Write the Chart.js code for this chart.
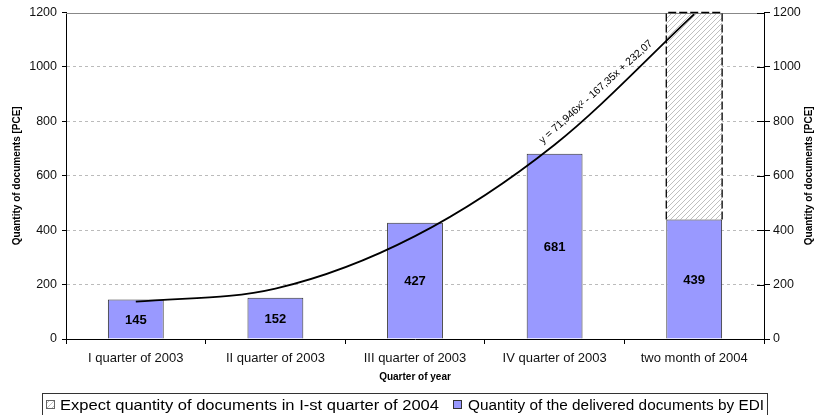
<!DOCTYPE html>
<html>
<head>
<meta charset="utf-8">
<script src="https://cdn.jsdelivr.net/npm/chart.js@4.4.1/dist/chart.umd.min.js"></script>
<style>
  html, body { margin: 0; padding: 0; background: #fff; }
  #wrap { width: 815px; height: 415px; position: relative; }
</style>
</head>
<body>
<div id="wrap"><canvas id="chart"></canvas></div>
<script>
  const categories = [
    "I quarter of 2003",
    "II quarter of 2003",
    "III quarter of 2003",
    "IV quarter of 2003",
    "two month of 2004",
  ];
  const delivered = [145, 152, 427, 681, 439];
  const expected = [null, null, null, null, 761];
  const trend = [137, 185, 378, 714, 1194];
  const yTicks = [0, 200, 400, 600, 800, 1000, 1200];
  const trendLabel = "y = 71,946x² - 167,35x + 232,07";
  const legendLabels = [
    "Expect quantity of documents in I-st quarter of 2004",
    "Quantity of the delivered documents by EDI",
  ];
  const axisTitle = "Quantity of documents [PCE]";
  const xTitle = "Quarter of year";

  const FONT = "'Liberation Sans', Arial, sans-serif";
  const BLUE = "#9999ff";

  function makeHatch(size) {
    const p = document.createElement("canvas");
    p.width = size;
    p.height = size;
    const g = p.getContext("2d");
    g.fillStyle = "#fff";
    g.fillRect(0, 0, size, size);
    g.strokeStyle = "#b8b8b8";
    g.lineWidth = 0.9;
    g.beginPath();
    g.moveTo(-1, size + 1);
    g.lineTo(size + 1, -1);
    g.moveTo(-1, 1);
    g.lineTo(1, -1);
    g.moveTo(size - 1, size + 1);
    g.lineTo(size + 1, size - 1);
    g.stroke();
    return g.createPattern(p, "repeat");
  }
  const hatch = makeHatch(5);

  // text squeezed or stretched to the width it has in the original
  function fitText(ctx, text, x, y, width) {
    const w = ctx.measureText(text).width;
    ctx.save();
    ctx.translate(x, y);
    ctx.scale(width / w, 1);
    ctx.fillText(text, 0, 0);
    ctx.restore();
  }

  const decor = {
    id: "decor",
    afterDatasetsDraw(chart) {
      const { ctx, chartArea } = chart;
      ctx.save();

      // solid top border at 1200
      ctx.strokeStyle = "#888";
      ctx.lineWidth = 1;
      ctx.beginPath();
      ctx.moveTo(chartArea.left, Math.round(chartArea.top) + 0.5);
      ctx.lineTo(chartArea.right, Math.round(chartArea.top) + 0.5);
      ctx.stroke();

      // dashed outline for the forecast bar
      const fm = chart.getDatasetMeta(2);
      fm.data.forEach((el, i) => {
        if (expected[i] == null) return;
        const { x, y, base, width } = el.getProps(["x", "y", "base", "width"], true);
        ctx.strokeStyle = "#000";
        ctx.lineWidth = 1.3;
        ctx.setLineDash([8, 3]);
        ctx.beginPath();
        ctx.moveTo(x - width / 2, base);
        ctx.lineTo(x - width / 2, y);
        ctx.lineTo(x + width / 2, y);
        ctx.lineTo(x + width / 2, base);
        ctx.stroke();
        ctx.setLineDash([]);
      });

      // value labels in the blue bars
      const dm = chart.getDatasetMeta(1);
      ctx.fillStyle = "#000";
      ctx.font = "bold 13px " + FONT;
      ctx.textAlign = "center";
      ctx.textBaseline = "middle";
      dm.data.forEach((el, i) => {
        const { x, y, base } = el.getProps(["x", "y", "base"], true);
        ctx.fillText(String(delivered[i]), x, (y + base) / 2 + 1);
      });
      ctx.restore();
    },
    afterDraw(chart) {
      const { ctx, chartArea } = chart;
      ctx.save();
      const midY = (chartArea.top + chartArea.bottom) / 2;

      // trend equation
      ctx.save();
      ctx.translate(596, 92);
      ctx.rotate(-0.735);
      ctx.font = "10.5px " + FONT;
      ctx.fillStyle = "#000";
      ctx.textAlign = "center";
      ctx.textBaseline = "middle";
      ctx.fillText(trendLabel, 0, 0);
      ctx.restore();

      // axis titles
      ctx.font = "bold 10px " + FONT;
      ctx.fillStyle = "#000";
      ctx.textAlign = "center";
      ctx.textBaseline = "middle";
      [17, 809].forEach((x) => {
        ctx.save();
        ctx.translate(x, midY);
        ctx.rotate(-Math.PI / 2);
        ctx.fillText(axisTitle, 0, 0);
        ctx.restore();
      });
      ctx.fillText(xTitle, (chartArea.left + chartArea.right) / 2, 377);

      // legend
      ctx.strokeStyle = "#333";
      ctx.lineWidth = 1;
      ctx.strokeRect(42.5, 393.5, 725, 24);
      ctx.font = "14px " + FONT;
      ctx.textAlign = "left";
      const ly = 405;
      ctx.fillStyle = hatch;
      ctx.fillRect(46.5, ly - 4.5, 8, 8);
      ctx.strokeStyle = "#666";
      ctx.strokeRect(46.5, ly - 4.5, 8, 8);
      ctx.fillStyle = "#000";
      fitText(ctx, legendLabels[0], 60, ly + 1, 379);
      ctx.fillStyle = BLUE;
      ctx.fillRect(453.5, ly - 4.5, 8, 8);
      ctx.strokeStyle = "#333";
      ctx.strokeRect(453.5, ly - 4.5, 8, 8);
      ctx.fillStyle = "#000";
      fitText(ctx, legendLabels[1], 468, ly + 1, 296);

      // inner halves of the right-axis ticks
      const y2 = chart.scales.y2;
      ctx.strokeStyle = "#000";
      ctx.beginPath();
      yTicks.forEach((v) => {
        const py = Math.round(y2.getPixelForValue(v)) + 0.5;
        ctx.moveTo(y2.left - 7, py);
        ctx.lineTo(y2.left, py);
      });
      ctx.stroke();
      ctx.restore();
    },
  };

  const tickFont = { family: FONT, size: 12.5 };

  new Chart(document.getElementById("chart"), {
    type: "bar",
    data: {
      labels: categories,
      datasets: [
        {
          type: "line",
          label: "trend",
          data: trend,
          yAxisID: "y2",
          borderColor: "#000",
          borderWidth: 1.8,
          pointRadius: 0,
          cubicInterpolationMode: "monotone",
          fill: false,
          order: 0,
        },
        {
          label: legendLabels[1],
          data: delivered,
          backgroundColor: BLUE,
          borderColor: "#333",
          borderWidth: 1,
          borderSkipped: "bottom",
          barPercentage: 0.4,
          categoryPercentage: 1,
          order: 1,
        },
        {
          label: legendLabels[0],
          data: expected,
          backgroundColor: hatch,
          borderWidth: 0,
          barPercentage: 0.4,
          categoryPercentage: 1,
          order: 1,
        },
      ],
    },
    options: {
      responsive: true,
      maintainAspectRatio: false,
      animation: false,
      layout: { padding: { top: 12, left: 0, right: 0, bottom: 22 } },
      plugins: { legend: { display: false }, tooltip: { enabled: false } },
      scales: {
        x: {
          stacked: true,
          grid: { offset: true, drawOnChartArea: false, tickColor: "#000", tickLength: 5 },
          border: { color: "#000" },
          ticks: { font: { family: FONT, size: 13 }, color: "#111", padding: 7, maxRotation: 0, autoSkip: false },
          afterFit(s) { s.height = 54; },
        },
        y: {
          stacked: true,
          min: 0,
          max: 1200,
          afterBuildTicks(s) { s.ticks = yTicks.map((v) => ({ value: v })); },
          ticks: { font: tickFont, color: "#111", padding: 5, callback: (v) => String(v) },
          grid: {
            color: (c) => (c.tick && (c.tick.value === 0 || c.tick.value === 1200) ? "rgba(0,0,0,0)" : "#bbb"),
            tickColor: "#000",
            tickLength: 4,
            tickBorderDash: [],
          },
          border: { color: "#000", dash: [3, 3] },
          afterFit(s) { s.width = 66; },
        },
        y2: {
          position: "right",
          min: 0,
          max: 1200,
          afterBuildTicks(s) { s.ticks = yTicks.map((v) => ({ value: v })); },
          ticks: { font: tickFont, color: "#111", padding: 3, callback: (v) => String(v) },
          grid: { drawOnChartArea: false, tickColor: "#000", tickLength: 6 },
          border: { color: "#000" },
          afterFit(s) { s.width = 51; },
        },
      },
    },
    plugins: [decor],
  });
</script>
</body>
</html>
